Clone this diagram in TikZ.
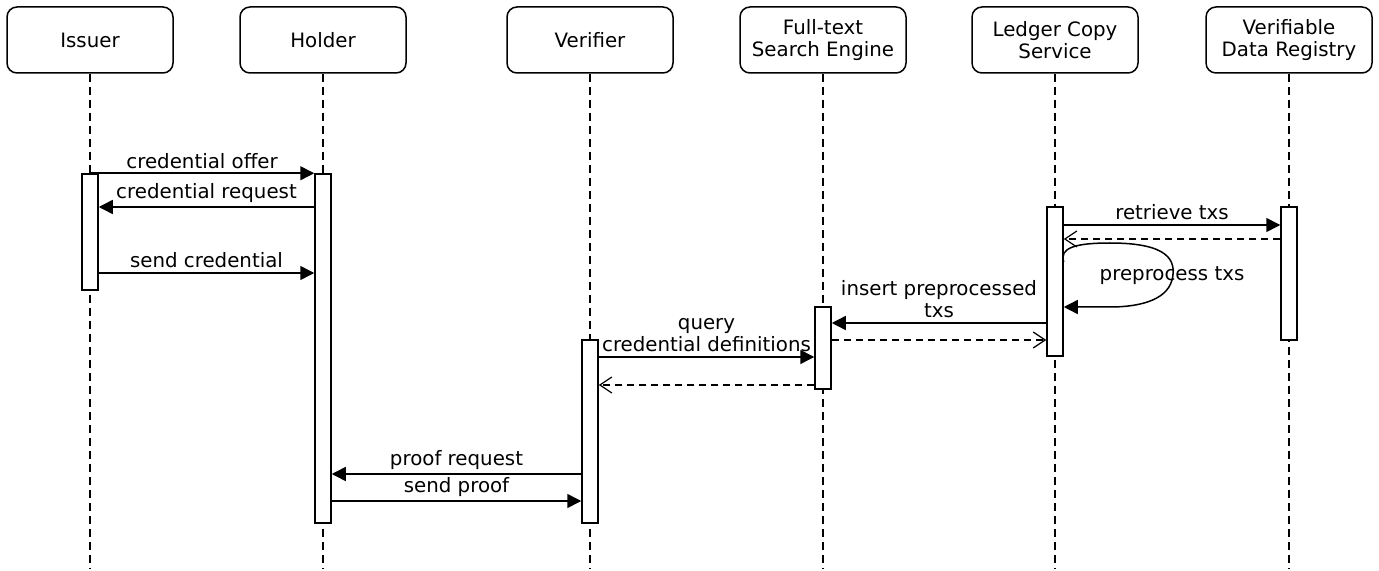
\documentclass[tikz,border=0pt]{standalone}
\usepackage{fontspec}
\setmainfont{DejaVu Sans}
\usetikzlibrary{arrows.meta}

\newlength{\du}
\setlength{\du}{0.5pt}

\tikzset{
  actor/.style={draw, line width=1.5\du, rounded corners=10\du, minimum width=166\du,
    minimum height=66\du, inner sep=0pt, align=center, font=\fontsize{9.9pt}{11.3pt}\selectfont},
  bar/.style={draw, fill=white, line width=1.5\du, minimum width=16\du, inner sep=0pt},
  lifeline/.style={line width=1.5\du, dash pattern=on 8\du off 5\du},
  msg/.style={line width=1.5\du, -{Triangle[length=7pt,width=7pt]}},
  reply/.style={line width=1.2\du, dash pattern=on 7\du off 5\du,
    -{Straight Barb[length=6pt,width=8pt,line width=0.6pt]}},
  msglabel/.style={inner sep=4\du, align=center, font=\fontsize{9.9pt}{11pt}\selectfont},
}

\begin{document}
\begin{tikzpicture}
\pgftransformxscale{1.000000}
\pgftransformyscale{-1.000000}
\useasboundingbox (0\du,0\du) rectangle (1379\du,571\du);

\node[actor] (issuer) at (90\du,40\du) {Issuer};
\node[actor] (holder) at (323\du,40\du) {Holder};
\node[actor] (verifier) at (590\du,40\du) {Verifier};
\node[actor] (search) at (823\du,40\du) {Full-text\\Search Engine};
\node[actor] (ledger) at (1055\du,40\du) {Ledger Copy\\Service};
\node[actor] (registry) at (1289\du,40\du) {Verifiable\\Data Registry};

\coordinate (issuerend) at (90\du,568\du);
\coordinate (holderend) at (323\du,568\du);
\coordinate (verifierend) at (590\du,568\du);
\coordinate (searchend) at (823\du,568\du);
\coordinate (ledgerend) at (1055\du,568\du);
\coordinate (registryend) at (1289\du,568\du);
\draw[lifeline] (issuer.south) -- (issuerend);
\draw[lifeline] (holder.south) -- (holderend);
\draw[lifeline] (verifier.south) -- (verifierend);
\draw[lifeline] (search.south) -- (searchend);
\draw[lifeline] (ledger.south) -- (ledgerend);
\draw[lifeline] (registry.south) -- (registryend);

\node[bar, minimum height=116\du] (issuerbar) at (90\du,232\du) {};
\node[bar, minimum height=349\du] (holderbar) at (323\du,348.5\du) {};
\node[bar, minimum height=183\du] (verifierbar) at (590\du,431.5\du) {};
\node[bar, minimum height=82\du] (searchbar) at (823\du,348\du) {};
\node[bar, minimum height=149\du] (ledgerbar) at (1055\du,281.5\du) {};
\node[bar, minimum height=133\du] (registrybar) at (1289\du,273.5\du) {};

\draw[msg] (issuerbar.north) -- (holderbar.north west)
  node[msglabel, above, midway] {credential offer};
\draw[msg] (holderbar.west |- 0,207\du) -- (issuerbar.east |- 0,207\du)
  node[msglabel, above, midway] {credential request};
\draw[msg] (issuerbar.east |- 0,273\du) -- (holderbar.west |- 0,273\du)
  node[msglabel, above, midway] {send credential};

\draw[msg] (ledgerbar.east |- 0,225\du) -- (registrybar.west |- 0,225\du)
  node[msglabel, above, midway] {retrieve txs};
\draw[reply] (registrybar.west |- 0,239\du) -- (ledgerbar.east |- 0,239\du);
\draw[msg] (ledgerbar.east |- 0,262\du) .. controls (1059\du,248\du) and (1075\du,243\du) .. (1110\du,243\du)
  .. controls (1168\du,243\du) and (1177\du,260\du) .. (1172\du,280\du)
  .. controls (1166\du,302\du) and (1135\du,307\du) .. (1110\du,307\du) -- (ledgerbar.east |- 0,307\du);
\node[msglabel] (preprocess) at (1172\du,276\du) {preprocess txs};

\draw[msg] (ledgerbar.west |- 0,323\du) -- (searchbar.east |- 0,323\du)
  node[msglabel, above, midway] {insert preprocessed\\txs};
\draw[reply] (searchbar.east |- 0,340\du) -- (ledgerbar.west |- 0,340\du);

\draw[msg] (verifierbar.east |- 0,357\du) -- (searchbar.west |- 0,357\du)
  node[msglabel, above, midway] {query\\credential definitions};
\draw[reply] (searchbar.west |- 0,385\du) -- (verifierbar.east |- 0,385\du);

\draw[msg] (verifierbar.west |- 0,474\du) -- (holderbar.east |- 0,474\du)
  node[msglabel, above, midway] {proof request};
\draw[msg] (holderbar.east |- 0,501\du) -- (verifierbar.west |- 0,501\du)
  node[msglabel, above, midway] {send proof};
\end{tikzpicture}
\end{document}
